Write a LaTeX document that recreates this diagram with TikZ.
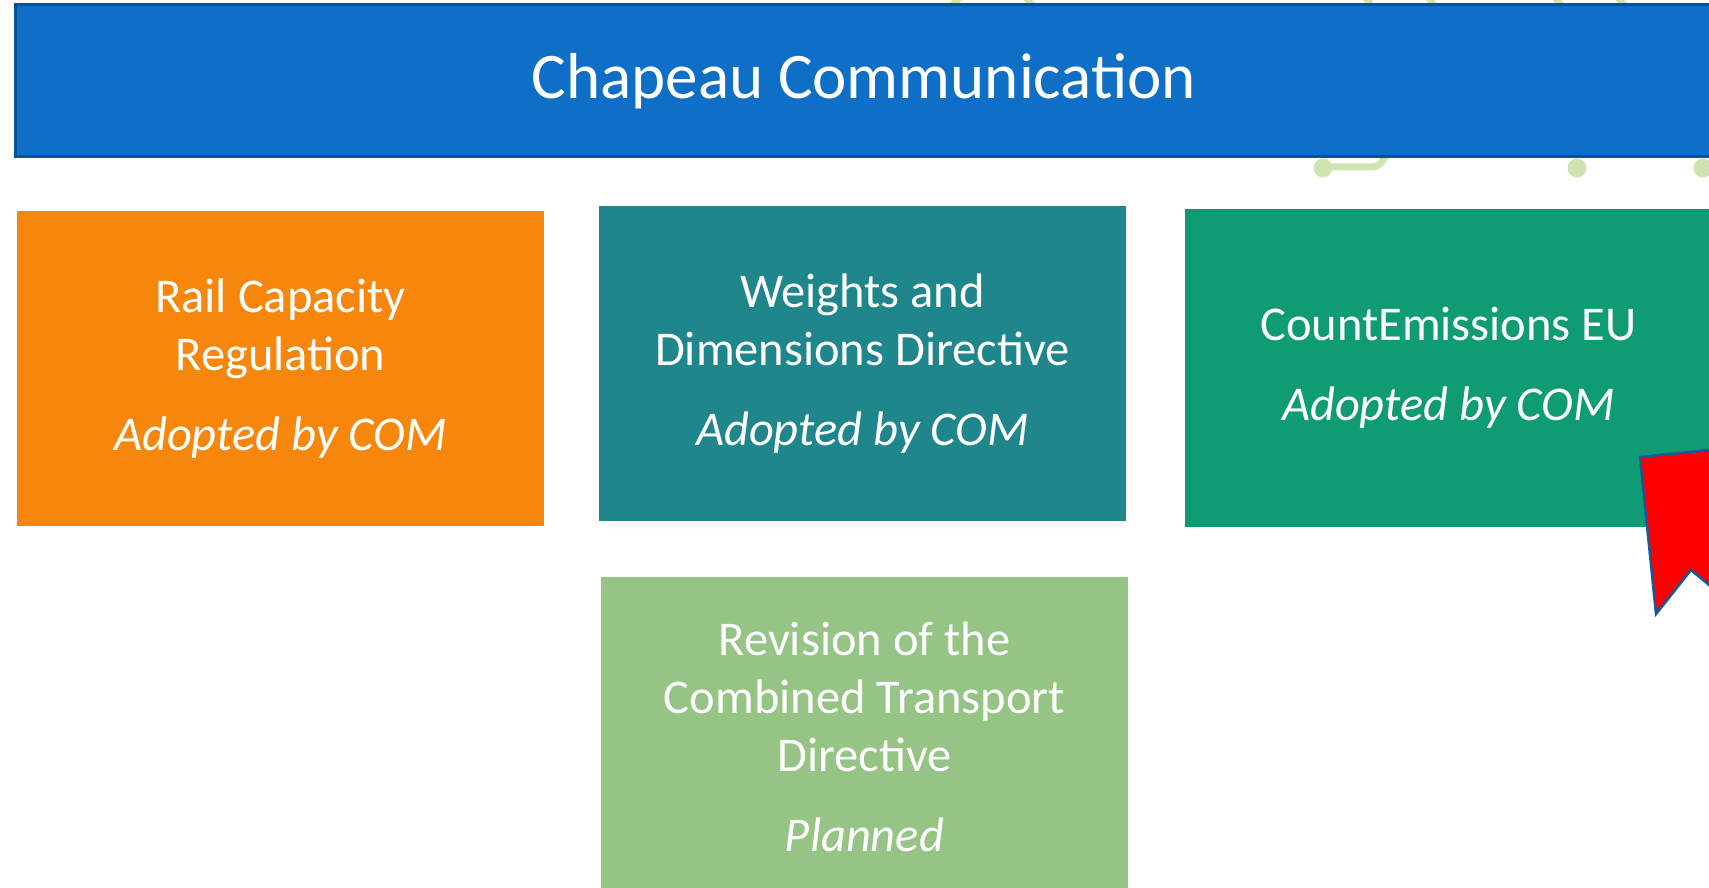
\documentclass[tikz,border=0pt]{standalone}
\usepackage{fontspec}
\setmainfont{Carlito}
\definecolor{barblue}{HTML}{0F6FC6}
\definecolor{barline}{HTML}{0B5294}
\definecolor{boxorange}{HTML}{F6870C}
\definecolor{boxteal}{HTML}{1F868B}
\definecolor{boxgreen}{HTML}{0F9C74}
\definecolor{boxlight}{HTML}{95C485}
\definecolor{circuit}{HTML}{CFE4B0}
\definecolor{ribbonline}{HTML}{15589C}
\tikzset{
  x=1pt,y=-1pt,
  bluebar/.style={draw=barline,line width=3pt,fill=barblue,text=white,minimum width=1698pt,minimum height=152pt,inner sep=0pt,font=\fontsize{65}{78}\selectfont},
  infobox/.style={text=white,minimum width=527pt,minimum height=315pt,inner sep=0pt,align=center,font=\fontsize{48.5}{58}\selectfont},
  trace/.style={circuit,line width=7pt,line cap=round}
}
\begin{document}
\begin{tikzpicture}
\useasboundingbox (0,0) rectangle (1709,888);
\clip (0,0) rectangle (1709,888);
\fill[white] (0,0) rectangle (1709,888);
% faint circuit pattern behind the bar
\draw[trace] (960,-3) -- (930,30);
\draw[trace] (1026,-3) -- (1050,30);
\draw[trace] (1365,-3) -- (1390,30);
\draw[trace] (1428,-3) -- (1452,30);
\draw[trace] (1555,-3) -- (1580,30);
\draw[trace] (1618,-3) -- (1642,30);
\draw[trace] (1323,167) -- (1372,167) arc[start angle=90,end angle=30,radius=12] -- (1395,140);
\fill[circuit] (1323,168) circle[radius=9.5];
\fill[circuit] (1577,168) circle[radius=9.5];
\fill[circuit] (1703,168) circle[radius=9.5];
% boxes
\node[bluebar] (chapeau) at (864,81) {Chapeau Communication};
\node[infobox,fill=boxorange] (rail) at (280.5,368.5) {Rail Capacity\\Regulation\\[22pt]\textit{Adopted by COM}};
\node[infobox,fill=boxteal] (weights) at (862.5,363.5) {Weights and\\Dimensions Directive\\[22pt]\textit{Adopted by COM}};
\node[infobox,fill=boxgreen,minimum height=318pt] (count) at (1448.5,368) {CountEmissions EU\\[22pt]\textit{Adopted by COM}};
\node[infobox,fill=boxlight,minimum height=320pt] (combined) at (864.5,737) {Revision of the\\Combined Transport\\Directive\\[22pt]\textit{Planned}};
% ribbon
\draw[draw=ribbonline,line width=2.5pt,fill=red,line join=miter] (1640,457) -- (1720,449) -- (1720,594) -- (1691,570) -- (1656,614) -- cycle;
\end{tikzpicture}
\end{document}
